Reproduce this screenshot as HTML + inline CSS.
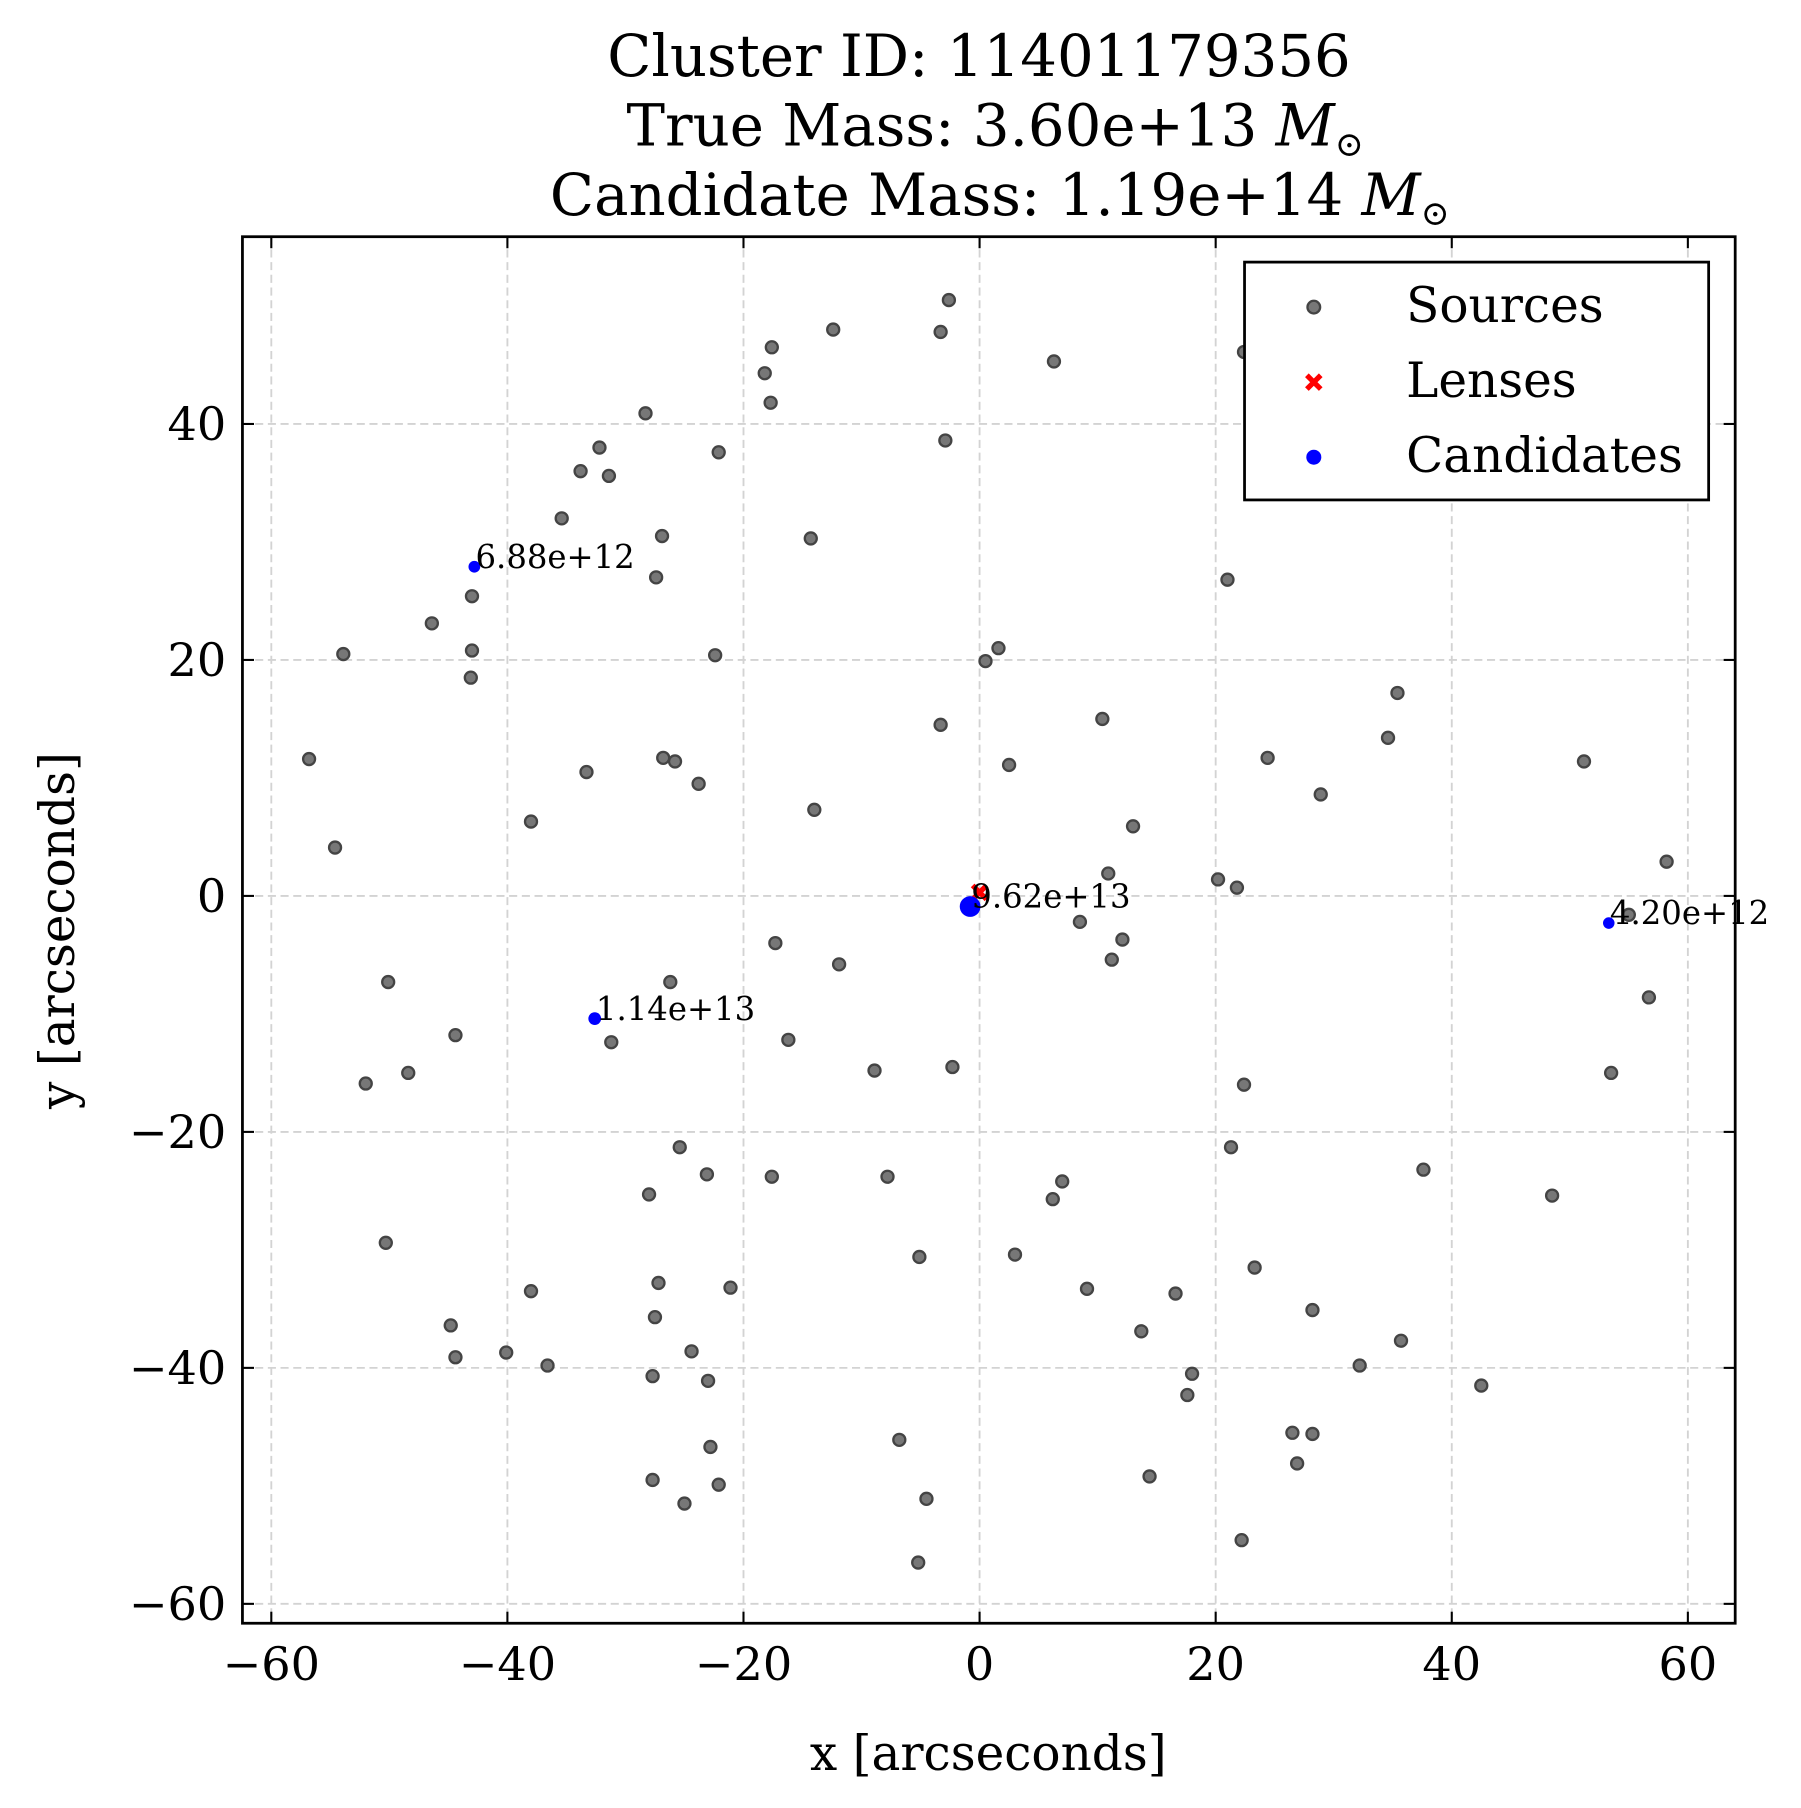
<!DOCTYPE html>
<html><head><meta charset="utf-8"><style>
html,body{margin:0;padding:0;background:#fff;}
svg{display:block;font-family:"DejaVu Serif","Liberation Serif",serif;}
</style></head><body>
<svg id="chart" width="1801" height="1808" viewBox="0 0 1560 1566" xmlns="http://www.w3.org/2000/svg">
<rect width="1560" height="1566" fill="#fff"/>
<g font-size="50" text-anchor="middle">
<text x="848" y="66">Cluster ID: 11401179356</text>
<text x="862" y="126">True Mass: 3.60e+13 <tspan font-style="italic">M</tspan><tspan font-size="30" dy="9">⊙</tspan></text>
<text x="866" y="186">Candidate Mass: 1.19e+14 <tspan font-style="italic">M</tspan><tspan font-size="30" dy="9">⊙</tspan></text>
</g>
<g id="grid"></g>
<g id="marks"></g>
<rect x="210" y="205" width="1293" height="1201" fill="none" stroke="#000" stroke-width="2.4"/>
<g id="ticks" font-size="40"></g>
<text x="856" y="1533" font-size="42" text-anchor="middle">x [arcseconds]</text>
<text transform="translate(64,806) rotate(-90)" font-size="42" text-anchor="middle">y [arcseconds]</text>
<g>
<rect x="1078" y="227" width="402" height="206" fill="#fff" stroke="#000" stroke-width="2.4"/>
<circle cx="1138" cy="266" r="5.5" fill="#777" stroke="#444" stroke-width="2"/>
<text x="1218" y="279" font-size="42">Sources</text>
<path d="M1132,325 L1144,337 M1144,325 L1132,337" stroke="#f00" stroke-width="4.5"/>
<text x="1218" y="344" font-size="42">Lenses</text>
<circle cx="1138" cy="396" r="6.5" fill="#00f"/>
<text x="1218" y="409" font-size="42">Candidates</text>
</g>
</svg>
<script>
const srcX=[-2.6,-3.3,-12.4,-17.6,-18.2,-17.7,6.3,22.4,-28.3,-32.2,-22.1,-2.9,-33.8,-31.4,-35.4,-26.9,-14.3,-27.4,21.0,-43.0,-46.4,-53.9,-43.0,-22.4,1.6,0.5,-43.1,35.4,-3.3,10.4,34.6,-56.8,-26.8,-25.8,-33.3,24.4,51.2,2.5,-23.8,28.9,-14.0,-38.0,13.0,-54.6,58.2,10.9,20.2,21.8,55.0,8.5,12.1,11.2,-17.3,-11.9,-50.1,-26.2,56.7,-44.4,-31.2,-16.2,-2.3,-8.9,-52.0,-48.4,53.5,22.4,-25.4,21.3,37.6,-23.1,-17.6,-7.8,7.0,6.2,-28.0,48.5,-50.3,-5.1,3.0,23.3,-27.2,-21.1,9.1,-38.0,16.6,-27.5,28.2,-44.8,13.7,35.7,-44.4,-40.1,-24.4,-36.6,32.2,-27.7,-23.0,18.0,42.5,17.6,26.5,28.2,-6.8,-22.8,26.9,-27.7,-22.1,14.4,-25.0,-4.5,22.2,-5.2];
const srcY=[50.5,47.8,48.0,46.5,44.3,41.8,45.3,46.1,40.9,38.0,37.6,38.6,36.0,35.6,32.0,30.5,30.3,27.0,26.8,25.4,23.1,20.5,20.8,20.4,21.0,19.9,18.5,17.2,14.5,15.0,13.4,11.6,11.7,11.4,10.5,11.7,11.4,11.1,9.5,8.6,7.3,6.3,5.9,4.1,2.9,1.9,1.4,0.7,-1.6,-2.2,-3.7,-5.4,-4.0,-5.8,-7.3,-7.3,-8.6,-11.8,-12.4,-12.2,-14.5,-14.8,-15.9,-15.0,-15.0,-16.0,-21.3,-21.3,-23.2,-23.6,-23.8,-23.8,-24.2,-25.7,-25.3,-25.4,-29.4,-30.6,-30.4,-31.5,-32.8,-33.2,-33.3,-33.5,-33.7,-35.7,-35.1,-36.4,-36.9,-37.7,-39.1,-38.7,-38.6,-39.8,-39.8,-40.7,-41.1,-40.5,-41.5,-42.3,-45.5,-45.6,-46.1,-46.7,-48.1,-49.5,-49.9,-49.2,-51.5,-51.1,-54.6,-56.5];
const lensX=[0.0];
const lensY=[0.3];
const candX=[-42.8,-32.6,-0.8,53.3];
const candY=[27.9,-10.4,-0.9,-2.3];
const candMass=[6.88e12,1.14e13,9.62e13,4.20e12];
const candLabels=["6.88e+12","1.14e+13","9.62e+13","4.20e+12"];
const xTicks=[-60,-40,-20,0,20,40,60];
const yTicks=[-60,-40,-20,0,20,40];

const NS="http://www.w3.org/2000/svg";
const L=210,R=1503,T=205,B=1406;
function X(v){return 848.5+v*10.225;}
function Y(v){return 776-v*10.22;}
function mk(tag,attrs,parent){const e=document.createElementNS(NS,tag);for(const k in attrs)e.setAttribute(k,attrs[k]);parent.appendChild(e);return e;}
const grid=document.getElementById('grid'),marks=document.getElementById('marks'),ticks=document.getElementById('ticks');
xTicks.forEach(v=>{
  const g=mk('line',{x1:X(v),x2:X(v),y1:T,y2:B,stroke:'#d3d3d3','stroke-width':1.6,'stroke-dasharray':'7,4'},grid);
  
  
  const t1=mk('line',{x1:X(v),x2:X(v),y1:B,y2:B-10,stroke:'#000','stroke-width':1.8},ticks);
  
  
  const t2=mk('line',{x1:X(v),x2:X(v),y1:T,y2:T+10,stroke:'#000','stroke-width':1.8},ticks);
  
  
  const tx=mk('text',{x:X(v),y:1455,'text-anchor':'middle'},ticks);
  tx.textContent=v<0?'\u2212'+(-v):String(v);
  
  
});
yTicks.forEach(v=>{
  const g=mk('line',{x1:L,x2:R,y1:Y(v),y2:Y(v),stroke:'#d3d3d3','stroke-width':1.6,'stroke-dasharray':'7,4'},grid);
  
  
  const t1=mk('line',{x1:L,x2:L+10,y1:Y(v),y2:Y(v),stroke:'#000','stroke-width':1.8},ticks);
  
  
  const t2=mk('line',{x1:R,x2:R-10,y1:Y(v),y2:Y(v),stroke:'#000','stroke-width':1.8},ticks);
  
  
  const tx=mk('text',{x:196,y:Y(v)+14,'text-anchor':'end'},ticks);
  tx.textContent=v<0?'\u2212'+(-v):String(v);
  
  
});
srcX.forEach((x,i)=>{
  const c=mk('circle',{cx:X(x),cy:Y(srcY[i]),r:5.2,fill:'#777',stroke:'#444','stroke-width':2},marks);
  
  
});
lensX.forEach((x,i)=>{
  const px=X(x),py=Y(lensY[i]);
  const p=mk('path',{d:`M${px-6},${py-6} L${px+6},${py+6} M${px+6},${py-6} L${px-6},${py+6}`,stroke:'#f00','stroke-width':4.5},marks);
  
  
});
candX.forEach((x,i)=>{
  const r=Math.max(5,Math.min(9,3.5+Math.sqrt(candMass[i]/1e12)*0.6));
  const c=mk('circle',{cx:X(x),cy:Y(candY[i]),r:r,fill:'#00f'},marks);
  
  
  const t=mk('text',{x:X(x)+1,y:Y(candY[i])+1,'font-size':28},marks);
  t.textContent=candLabels[i];
  
  
});
</script>
</body></html>
